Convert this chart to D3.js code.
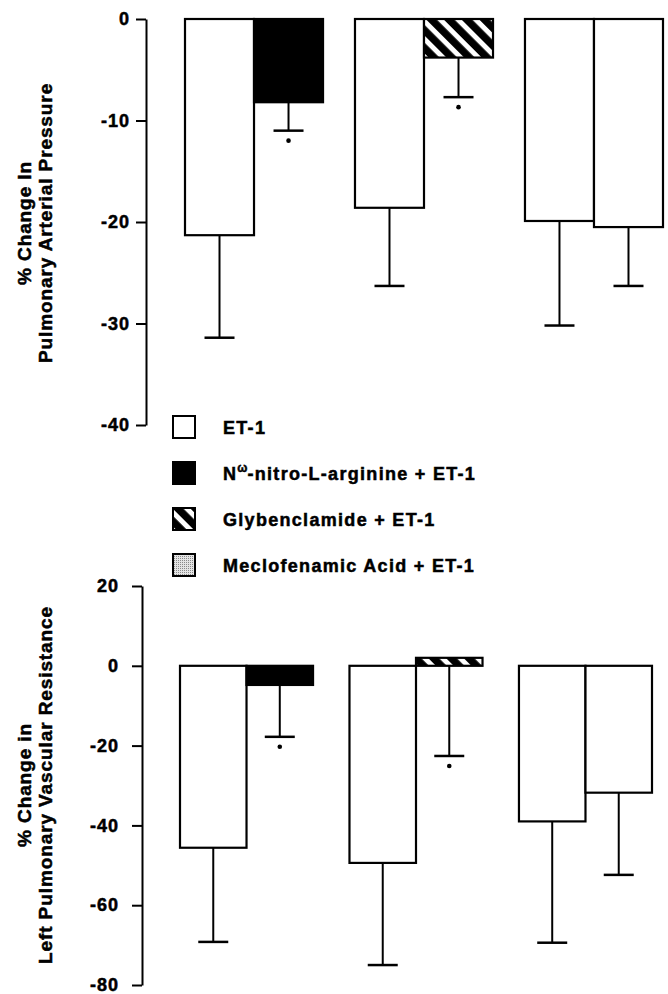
<!DOCTYPE html>
<html>
<head>
<meta charset="utf-8">
<script src="https://cdn.jsdelivr.net/npm/d3@7"></script>
<style>
  html, body { margin: 0; padding: 0; background: #fff; }
  svg { display: block; }
  text { font-family: "Liberation Sans", Arial, Helvetica, sans-serif; font-weight: bold; fill: #000; stroke: #000; stroke-width: 0.5px; }
</style>
</head>
<body>
<svg id="chart" width="668" height="994"></svg>
<script>
// ---- data ----
const groups = ["Nω-nitro-L-arginine", "Glybenclamide", "Meclofenamic Acid"];
const seriesLabels = ["ET-1", "-nitro-L-arginine + ET-1", "Glybenclamide + ET-1", "Meclofenamic Acid + ET-1"];
const seriesFills = ["white", "black", "url(#hatch)", "white"];

// Panel A: % change in pulmonary arterial pressure
const papTicks = [0, -10, -20, -30, -40];
const papControl = [-21.3, -18.6, -19.9];
const papControlErr = [-31.4, -26.3, -30.2];
const papTreated = [-8.2, -3.8, -20.5];
const papTreatedErr = [-11.0, -7.7, -26.3];
const papSig = [true, true, false];

// Panel B: % change in left pulmonary vascular resistance
const lpvrTicks = [20, 0, -20, -40, -60, -80];
const lpvrControl = [-45.6, -49.4, -39.0];
const lpvrControlErr = [-69.2, -75.0, -69.4];
const lpvrTreated = [-4.8, 2.0, -31.8];
const lpvrTreatedErr = [-17.8, -22.6, -52.4];
const lpvrSig = [true, true, false];

const svg = d3.select("#chart");
const defs = svg.append("defs");

// diagonal hatch "\\"
const hatch = defs.append("pattern")
  .attr("id", "hatch").attr("patternUnits", "userSpaceOnUse")
  .attr("width", 12.5).attr("height", 12.5)
  .attr("patternTransform", "rotate(-45)");
hatch.append("rect").attr("width", 12.5).attr("height", 12.5).attr("fill", "white");
hatch.append("rect").attr("width", 7.5).attr("height", 12.5).attr("fill", "black");

// stipple for legend
const dots = defs.append("pattern")
  .attr("id", "stipple").attr("patternUnits", "userSpaceOnUse")
  .attr("width", 2).attr("height", 2);
dots.append("rect").attr("width", 2).attr("height", 2).attr("fill", "#e4e4e4");
dots.append("rect").attr("width", 1).attr("height", 1).attr("fill", "#8a8a8a");

function panel(cfg) {
  const y = d3.scaleLinear().domain(cfg.domain).range(cfg.yRange);
  const xg = d3.scaleBand().domain(d3.range(groups.length)).range(cfg.xRange)
    .paddingInner(cfg.padInner).paddingOuter(0);
  const xi = d3.scaleBand().domain([0, 1]).range([0, xg.bandwidth()]).padding(0);

  const g = svg.append("g");

  // axis
  const axis = d3.axisLeft(y).tickValues(cfg.ticks).tickSize(10).tickSizeOuter(0)
    .tickPadding(cfg.tickPad).tickFormat(d => String(d));
  const ax = g.append("g").attr("transform", `translate(${cfg.axisX},0)`).call(axis);
  ax.select(".domain").attr("stroke", "#000").attr("stroke-width", 2);
  ax.selectAll(".tick line").attr("stroke", "#000").attr("stroke-width", 2);
  ax.selectAll(".tick text")
    .style("font-family", "'Liberation Sans', Arial, sans-serif")
    .style("font-weight", "bold").style("font-size", "18px")
    .style("letter-spacing", "1px").attr("fill", "#000");

  // title
  const t = g.append("text")
    .attr("transform", `translate(0,${cfg.titleY}) rotate(-90)`)
    .attr("text-anchor", "middle")
    .style("font-size", "19px").style("letter-spacing", "0.9px");
  t.append("tspan").attr("x", 0).attr("y", 31).text(cfg.title[0]);
  t.append("tspan").attr("x", 0).attr("y", 52).text(cfg.title[1]);

  const rows = [];
  groups.forEach((grp, i) => {
    rows.push({ gi: i, si: 0, v: cfg.control[i], e: cfg.controlErr[i], fill: seriesFills[0], sig: false });
    rows.push({ gi: i, si: 1, v: cfg.treated[i], e: cfg.treatedErr[i], fill: seriesFills[i + 1], sig: cfg.sig[i] });
  });

  const bx = d => xg(d.gi) + xi(d.si);
  const cx = d => bx(d) + xi.bandwidth() / 2;

  // error bars (drawn first, bars overlay)
  g.selectAll(".err").data(rows).join("line")
    .attr("x1", cx).attr("x2", cx)
    .attr("y1", d => y(d.v)).attr("y2", d => y(d.e))
    .attr("stroke", "#000").attr("stroke-width", 2);
  g.selectAll(".cap").data(rows).join("line")
    .attr("x1", d => cx(d) - 15).attr("x2", d => cx(d) + 15)
    .attr("y1", d => y(d.e)).attr("y2", d => y(d.e))
    .attr("stroke", "#000").attr("stroke-width", 2.5);

  // bars
  g.selectAll(".bar").data(rows).join("rect")
    .attr("x", bx).attr("width", xi.bandwidth())
    .attr("y", d => y(Math.max(0, d.v)))
    .attr("height", d => Math.abs(y(d.v) - y(0)))
    .attr("fill", d => d.fill)
    .attr("stroke", "#000").attr("stroke-width", 2.2);

  // significance marks
  g.selectAll(".sig").data(rows.filter(d => d.sig)).join("circle")
    .attr("cx", cx).attr("cy", d => y(d.e) + 10).attr("r", 2.3).attr("fill", "#000");
}

panel({
  domain: [0, -40], yRange: [19, 425], ticks: papTicks,
  xRange: [185, 663], padInner: 0.188, axisX: 146, tickPad: 6,
  control: papControl, controlErr: papControlErr,
  treated: papTreated, treatedErr: papTreatedErr, sig: papSig,
  titleY: 223, title: ["% Change In", "Pulmonary Arterial Pressure"]
});

panel({
  domain: [20, -80], yRange: [586, 985], ticks: lpvrTicks,
  xRange: [180, 652], padInner: 0.215, axisX: 142, tickPad: 13,
  control: lpvrControl, controlErr: lpvrControlErr,
  treated: lpvrTreated, treatedErr: lpvrTreatedErr, sig: lpvrSig,
  titleY: 785, title: ["% Change in", "Left Pulmonary Vascular Resistance"]
});

// legend
const legendFills = ["white", "black", "url(#hatch)", "url(#stipple)"];
const ly = d3.scalePoint().domain(d3.range(seriesLabels.length)).range([427, 565]);
const lg = svg.append("g");
seriesLabels.forEach((lab, i) => {
  lg.append("rect").attr("x", 173).attr("y", ly(i) - 11).attr("width", 22).attr("height", 22)
    .attr("fill", legendFills[i]).attr("stroke", "#000").attr("stroke-width", 2);
  const tx = lg.append("text").attr("x", 223).attr("y", ly(i) + 6.5)
    .style("font-size", "18px").style("letter-spacing", "1.3px");
  if (i === 1) {
    tx.append("tspan").text("N");
    tx.append("tspan").attr("dy", -8).style("font-size", "12px").style("letter-spacing", "0px").text("ω");
    tx.append("tspan").attr("dy", 8).text(lab);
  } else {
    tx.text(lab);
  }
});
</script>
</body>
</html>
